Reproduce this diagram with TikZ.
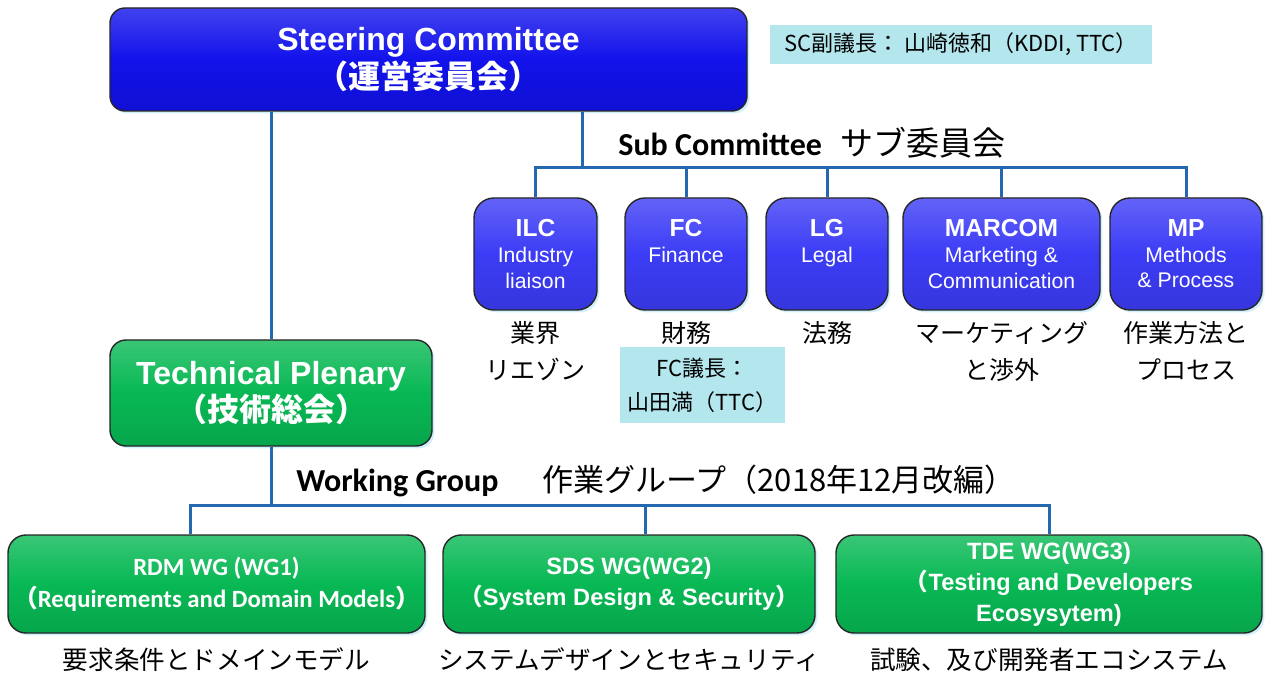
\documentclass[tikz,border=0pt]{standalone}
\usepackage{fontspec}
\setmainfont{Liberation Sans}
\newfontfamily\jp{Noto Sans CJK JP}
\newfontfamily\carl{Carlito}
\usepackage{tikz}
\usetikzlibrary{positioning, shadows}
\definecolor{sc-blue}{RGB}{18,18,235}
\definecolor{sub-blue}{RGB}{60,60,246}
\definecolor{wg-green}{RGB}{8,184,84}
\definecolor{link-blue}{RGB}{36,104,178}
\definecolor{note-cyan}{RGB}{180,230,238}
\newcommand{\jlp}{{\jp （}}
\newcommand{\jrp}{{\jp ）}}
\newcommand{\subhead}[1]{{\bfseries\fontsize{12.3}{14}\selectfont #1}}

\begin{document}
\begin{tikzpicture}[x=0.5pt, y=-0.5pt, node distance=5pt,
	box/.style={draw=black!85, line width=0.7pt, inner sep=0pt, align=center, text=white,
		drop shadow={shadow xshift=1.2pt, shadow yshift=-1.2pt, fill=cyan!30, opacity=0.6}},
	committee/.style={box, rounded corners=7.5pt, top color=sc-blue!80!white, bottom color=sc-blue!90!black, middle color=sc-blue,
		font={\bfseries\fontsize{16}{19}\selectfont}},
	subbox/.style={box, rounded corners=10pt, minimum height=56pt, top color=sub-blue!80!white, bottom color=sub-blue!90!black, middle color=sub-blue,
		font={\fontsize{10.6}{12.8}\selectfont}},
	plenary/.style={box, rounded corners=8pt, top color=wg-green!80!white, bottom color=wg-green!90!black, middle color=wg-green,
		font={\bfseries\fontsize{16}{18.5}\selectfont}},
	wgbox/.style={box, rounded corners=9pt, minimum height=49pt, top color=wg-green!80!white, bottom color=wg-green!90!black, middle color=wg-green,
		font={\bfseries\fontsize{11.8}{15.5}\selectfont}},
	note/.style={fill=note-cyan, inner sep=0pt, align=center, font={\jp\fontsize{11}{17}\selectfont}},
	caption/.style={inner sep=0pt, align=center, font={\jp\fontsize{12.5}{18.5}\selectfont}},
	heading/.style={inner sep=0pt, anchor=west, font={\fontsize{16}{18}\selectfont}},
	link/.style={draw=link-blue, line width=1.5pt}]
\useasboundingbox (0,0) rectangle (1268,673);

% steering committee and sub committees
\node[committee, minimum width=318.5pt, minimum height=51.5pt] (sc) at (428.5,59.5) {Steering Committee\\{\jp （運営委員会）}};
\node[note, minimum width=191pt, minimum height=19.5pt] (scnote) at (961,44.5) {SC副議長： 山崎徳和（KDDI, TTC）};
\node[heading] (subtitle) at (618,143) {{\carl\bfseries Sub Committee}\hspace{9pt}{\jp\fontsize{16.5}{18}\selectfont サブ委員会}};

\node[subbox, minimum width=61.5pt] (ilc) at (535.5,254) {\subhead{ILC}\\Industry\\liaison};
\node[subbox, minimum width=61pt] (fc) at (686,254) {\subhead{FC}\\Finance\\~};
\node[subbox, minimum width=61pt] (lg) at (827,254) {\subhead{LG}\\Legal\\~};
\node[subbox, minimum width=98.5pt] (marcom) at (1001.5,254) {\subhead{MARCOM}\\Marketing \&\\Communication};
\node[subbox, minimum width=76pt] (mp) at (1186,254) {\subhead{MP}\\Methods\\\& Process};

\node[caption, below=5pt of ilc] (ilcj) {業界\\リエゾン};
\node[caption, below=5pt of fc] (fcj) {財務};
\node[caption, below=5pt of lg] (lgj) {法務};
\node[caption, below=5pt of marcom] (marcomj) {マーケティング\\と渉外};
\node[caption, below=5pt of mp] (mpj) {作業方法と\\プロセス};
\node[note, minimum width=82.5pt, minimum height=38pt] (fcnote) at (702.5,385) {FC議長：\\山田満（TTC）};

% technical plenary and working groups
\node[plenary, minimum width=161pt, minimum height=53pt] (tp) at (271,393) {Technical Plenary\\{\jp （技術総会）}};
\node[heading] (wgtitle) at (296,481) {{\carl\bfseries Working Group}\hspace{22pt}{\jp\fontsize{15.5}{18}\selectfont 作業グループ（2018年12月改編）}};

\node[wgbox, minimum width=208.5pt, font={\carl\bfseries\fontsize{12.4}{16}\selectfont}] (rdm) at (216.5,584)
	{RDM WG (WG1)\\\jlp Requirements and Domain Models\jrp};
\node[wgbox, minimum width=186pt] (sds) at (629,584) {SDS WG(WG2)\\\jlp System Design \& Security\jrp};
\node[wgbox, minimum width=213pt] (tde) at (1049,584) {TDE WG(WG3)\\\jlp Testing and Developers\\Ecosysytem)};

\node[caption, below=7pt of rdm, font={\jp\fontsize{12.8}{16}\selectfont}] (rdmj) {要求条件とドメインモデル};
\node[caption, below=7pt of sds, font={\jp\fontsize{12.8}{16}\selectfont}] (sdsj) {システムデザインとセキュリティ};
\node[caption, below=7pt of tde, font={\jp\fontsize{12.8}{16}\selectfont}] (tdej) {試験、及び開発者エコシステム};

% connectors
\coordinate (scbus) at (582,168);
\coordinate (wgbus) at (645,505);
\coordinate (rdmdrop) at (190,505);
\draw[link]
	(tp.north |- sc.south) -- (tp.north)
	(scbus |- sc.south) -- (scbus)
	(ilc.north) -- (ilc.north |- scbus) -- (mp.north |- scbus) -- (mp.north)
	(fc.north |- scbus) -- (fc.north)
	(lg.north |- scbus) -- (lg.north)
	(marcom.north |- scbus) -- (marcom.north)
	(tp.south) -- (tp.south |- wgbus)
	(rdmdrop |- rdm.north) -- (rdmdrop) -- (tde.north |- wgbus) -- (tde.north)
	(wgbus) -- (wgbus |- sds.north);
\end{tikzpicture}
\end{document}
